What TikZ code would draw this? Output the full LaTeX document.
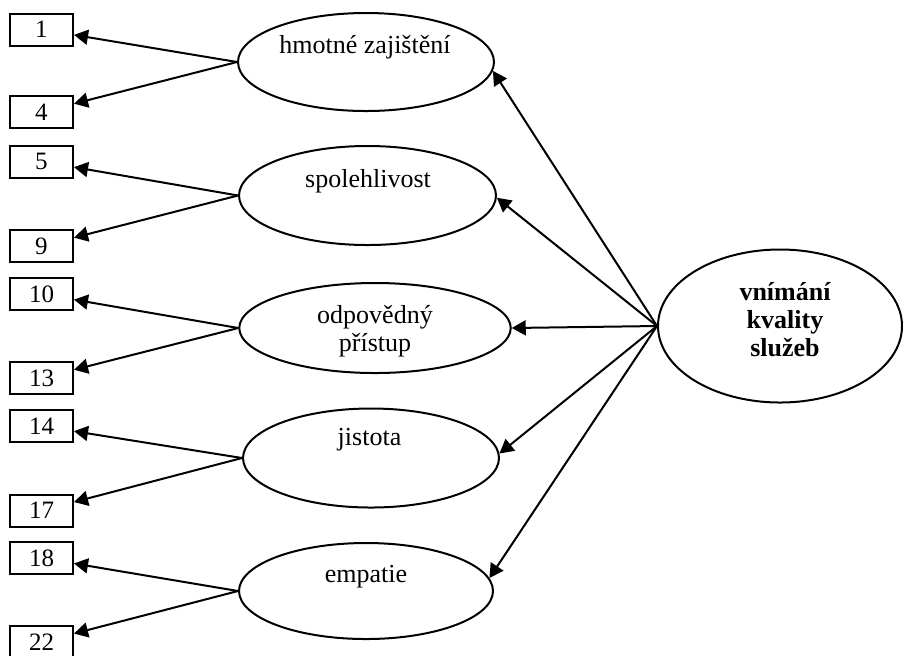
\documentclass[tikz,border=0pt]{standalone}
\usepackage{fontspec}
\setmainfont{Liberation Serif}
\usetikzlibrary{arrows.meta,shapes.geometric}
\begin{document}
\begin{tikzpicture}[x=0.5pt,y=-0.5pt,line width=1pt,
  item/.style={draw,rectangle,minimum width=31.5pt,minimum height=16pt,inner sep=0pt,
    font=\fontsize{12.5}{14}\selectfont},
  factor/.style={draw,ellipse,inner sep=0pt,minimum width=128pt,minimum height=49pt},
  txt/.style={inner sep=0pt,font=\fontsize{13}{14}\selectfont},
  conn/.style={-{Triangle[length=7pt,width=7.5pt]}}
]
\useasboundingbox (0,0) rectangle (903,655);

% item boxes
\node[item] (b1)  at (41.5,29.5)  {1};
\node[item] (b4)  at (41.5,112)   {4};
\node[item] (b5)  at (41.5,161.5) {5};
\node[item] (b9)  at (41.5,246)   {9};
\node[item] (b10) at (41.5,294)   {10};
\node[item] (b13) at (41.5,378)   {13};
\node[item] (b14) at (41.5,426)   {14};
\node[item] (b17) at (41.5,510.5) {17};
\node[item] (b18) at (41.5,558)   {18};
\node[item] (b22) at (41.5,642)   {22};

% dimension ellipses
\node[factor] (e1) at (366,62) {};
\node[factor,minimum width=128.5pt,minimum height=49.5pt] (e2) at (367.5,195.5) {};
\node[factor,minimum width=135.75pt,minimum height=45pt] (e3) at (375,328) {};
\node[factor,minimum height=49.5pt] (e4) at (371,458) {};
\node[factor,minimum width=127pt,minimum height=48pt] (e5) at (366,591) {};

% dimension labels
\node[txt,anchor=base] (t1) at (365,53)    {hmotné zajištění};
\node[txt,anchor=base] (t2) at (368,187.5) {spolehlivost};
\node[txt,align=center] (t3) at (375,331)  {odpovědný\\přístup};
\node[txt,anchor=base] (t4) at (369.5,445.5) {jistota};
\node[txt,anchor=base] (t5) at (366,582)   {empatie};

% overall quality
\node[factor,minimum width=122pt,minimum height=76.5pt] (q) at (780,326) {};
\node[txt,font=\fontsize{13}{14}\selectfont\bfseries,align=center] (tq) at (785,320)
  {vnímání\\kvality\\služeb};

% dimension -> items
\draw[conn] (e1.west) -- (b1);
\draw[conn] (e1.west) -- (b4);
\draw[conn] (e2.west) -- (b5);
\draw[conn] (e2.west) -- (b9);
\draw[conn] (e3.west) -- (b10);
\draw[conn] (e3.west) -- (b13);
\draw[conn] (e4.west) -- (b14);
\draw[conn] (e4.west) -- (b17);
\draw[conn] (e5.west) -- (b18);
\draw[conn] (e5.west) -- (b22);

% quality -> dimensions
\draw[conn] (q.west) -- (e1.-4);
\draw[conn] (q.west) -- (e2.-1.5);
\draw[conn] (q.west) -- (e3.east);
\draw[conn] (q.west) -- (e4.2.5);
\draw[conn] (q.west) -- (e5.6);
\end{tikzpicture}
\end{document}
